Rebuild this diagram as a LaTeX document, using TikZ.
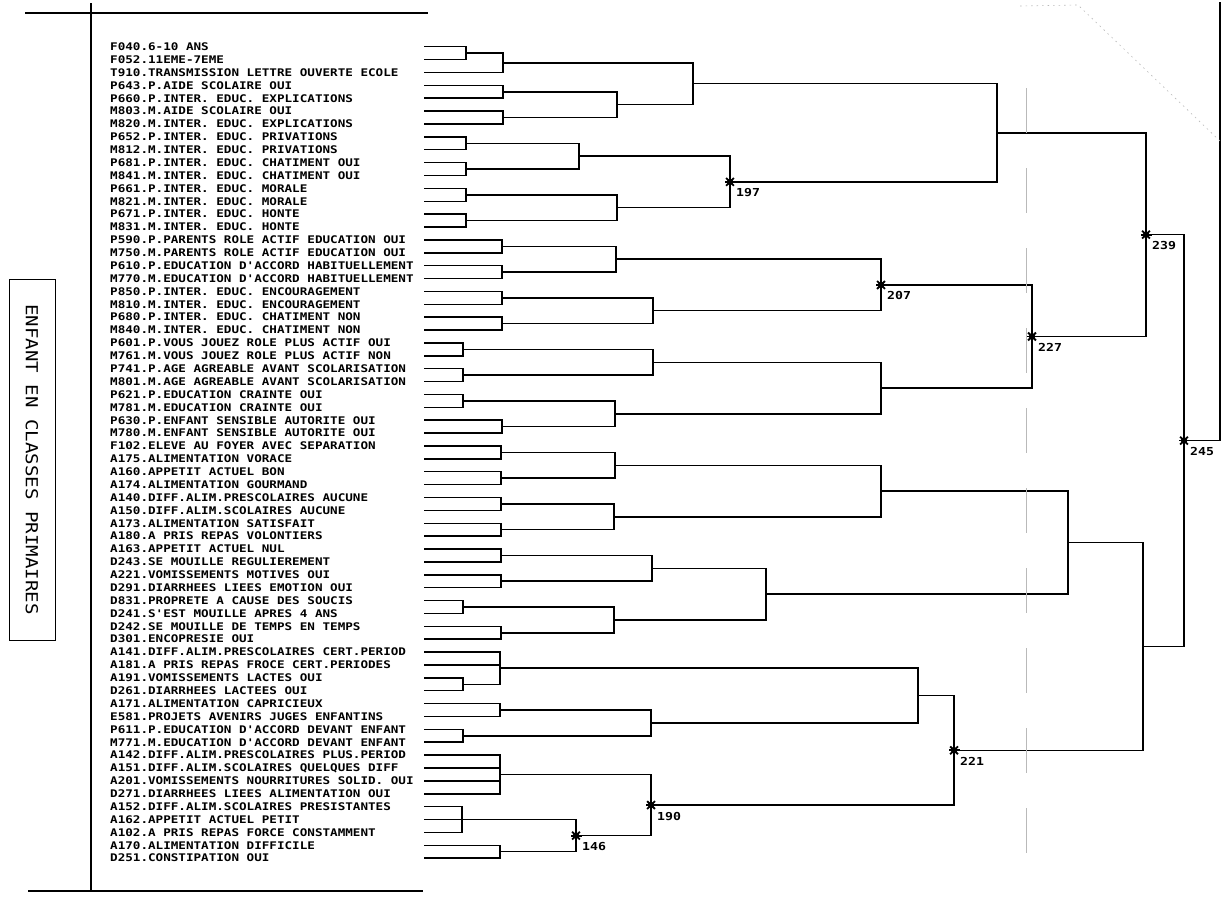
\documentclass[tikz,border=0pt]{standalone}
\usepackage{fontspec}
\usetikzlibrary{calc,shapes.geometric}
\newfontfamily\plotfont[FakeStretch=1.2]{DejaVu Sans Mono}
\newfontfamily\boxfont[FakeStretch=1.15]{DejaVu Sans Mono}
\newcommand\mrg[4]{%
  \path let \p1=($(#3)!0.5!(#4)$) in coordinate (#1) at (#2pt,\y1);
  \draw[dl] (#3) -- (#3-|#1) -- (#4-|#1) -- (#4);}
\begin{document}
\begin{tikzpicture}[x=1pt,y=-1pt,
  dl/.style={line width=1.5pt, line cap=rect},
  frame/.style={line width=1.6pt},
  lab/.style={anchor=base west, inner sep=0pt, font=\plotfont\bfseries\fontsize{10.5}{10.5}\selectfont},
  num/.style={anchor=base west, inner sep=0pt, font=\plotfont\bfseries\fontsize{11}{11}\selectfont},
  burst/.style={circle, fill=black, minimum size=6.5pt, inner sep=0pt},
  spoke/.style={line width=1.8pt},
  faint/.style={gray!55, line width=0.6pt}]
\fill[white] (0,0) rectangle (1223,900);
\useasboundingbox (0,0) rectangle (1223,900);

% frame lines
\coordinate (ft1) at (25,13);  \coordinate (ft2) at (428,13);
\coordinate (fb1) at (28,891); \coordinate (fb2) at (423,891);
\coordinate (fv1) at (91,3);   \coordinate (fv2) at (91,891);
\draw[frame] (ft1) -- (ft2);
\draw[frame] (fb1) -- (fb2);
\draw[line width=1.1pt] (fv1) -- (fv2);

% title box
\node[draw, line width=1pt, minimum width=46pt, minimum height=361pt, inner sep=0pt] (box) at (32,459.5) {};
\node[rotate=-90, inner sep=0pt, font=\boxfont\fontsize{16.6}{16.6}\selectfont] (title) at (box.center) {ENFANT EN CLASSES PRIMAIRES};

% labels and leaves
\foreach \lbl [count=\i] in {F040.6-10 ANS,
F052.11EME-7EME,
T910.TRANSMISSION LETTRE OUVERTE ECOLE,
P643.P.AIDE SCOLAIRE OUI,
P660.P.INTER. EDUC. EXPLICATIONS,
M803.M.AIDE SCOLAIRE OUI,
M820.M.INTER. EDUC. EXPLICATIONS,
P652.P.INTER. EDUC. PRIVATIONS,
M812.M.INTER. EDUC. PRIVATIONS,
P681.P.INTER. EDUC. CHATIMENT OUI,
M841.M.INTER. EDUC. CHATIMENT OUI,
P661.P.INTER. EDUC. MORALE,
M821.M.INTER. EDUC. MORALE,
P671.P.INTER. EDUC. HONTE,
M831.M.INTER. EDUC. HONTE,
P590.P.PARENTS ROLE ACTIF EDUCATION OUI,
M750.M.PARENTS ROLE ACTIF EDUCATION OUI,
P610.P.EDUCATION D'ACCORD HABITUELLEMENT,
M770.M.EDUCATION D'ACCORD HABITUELLEMENT,
P850.P.INTER. EDUC. ENCOURAGEMENT,
M810.M.INTER. EDUC. ENCOURAGEMENT,
P680.P.INTER. EDUC. CHATIMENT NON,
M840.M.INTER. EDUC. CHATIMENT NON,
P601.P.VOUS JOUEZ ROLE PLUS ACTIF OUI,
M761.M.VOUS JOUEZ ROLE PLUS ACTIF NON,
P741.P.AGE AGREABLE AVANT SCOLARISATION,
M801.M.AGE AGREABLE AVANT SCOLARISATION,
P621.P.EDUCATION CRAINTE OUI,
M781.M.EDUCATION CRAINTE OUI,
P630.P.ENFANT SENSIBLE AUTORITE OUI,
M780.M.ENFANT SENSIBLE AUTORITE OUI,
F102.ELEVE AU FOYER AVEC SEPARATION,
A175.ALIMENTATION VORACE,
A160.APPETIT ACTUEL BON,
A174.ALIMENTATION GOURMAND,
A140.DIFF.ALIM.PRESCOLAIRES AUCUNE,
A150.DIFF.ALIM.SCOLAIRES AUCUNE,
A173.ALIMENTATION SATISFAIT,
A180.A PRIS REPAS VOLONTIERS,
A163.APPETIT ACTUEL NUL,
D243.SE MOUILLE REGULIEREMENT,
A221.VOMISSEMENTS MOTIVES OUI,
D291.DIARRHEES LIEES EMOTION OUI,
D831.PROPRETE A CAUSE DES SOUCIS,
D241.S'EST MOUILLE APRES 4 ANS,
D242.SE MOUILLE DE TEMPS EN TEMPS,
D301.ENCOPRESIE OUI,
A141.DIFF.ALIM.PRESCOLAIRES CERT.PERIOD,
A181.A PRIS REPAS FROCE CERT.PERIODES,
A191.VOMISSEMENTS LACTES OUI,
D261.DIARRHEES LACTEES OUI,
A171.ALIMENTATION CAPRICIEUX,
E581.PROJETS AVENIRS JUGES ENFANTINS,
P611.P.EDUCATION D'ACCORD DEVANT ENFANT,
M771.M.EDUCATION D'ACCORD DEVANT ENFANT,
A142.DIFF.ALIM.PRESCOLAIRES PLUS.PERIOD,
A151.DIFF.ALIM.SCOLAIRES QUELQUES DIFF,
A201.VOMISSEMENTS NOURRITURES SOLID. OUI,
D271.DIARRHEES LIEES ALIMENTATION OUI,
A152.DIFF.ALIM.SCOLAIRES PRESISTANTES,
A162.APPETIT ACTUEL PETIT,
A102.A PRIS REPAS FORCE CONSTAMMENT,
A170.ALIMENTATION DIFFICILE,
D251.CONSTIPATION OUI}{
  \coordinate (L\i) at (425,{46.7+(\i-1)*12.88});
  \node[lab] (T\i) at (110,{46.7+(\i-1)*12.88+3.8}) {\lbl};
}

% ---- upper group ----
\mrg{m12}{466}{L1}{L2}
\mrg{m123}{503}{m12}{L3}
\mrg{m45}{503}{L4}{L5}
\mrg{m67}{503}{L6}{L7}
\mrg{m4567}{617}{m45}{m67}
\mrg{mA}{693}{m123}{m4567}
\mrg{m89}{466}{L8}{L9}
\mrg{m1011}{466}{L10}{L11}
\mrg{m811}{579}{m89}{m1011}
\mrg{m1213}{466}{L12}{L13}
\mrg{m1415}{466}{L14}{L15}
\mrg{m1215}{617}{m1213}{m1415}
\mrg{n197}{730}{m811}{m1215}
\mrg{mB}{997}{mA}{n197}

\mrg{m1617}{502}{L16}{L17}
\mrg{m1819}{502}{L18}{L19}
\mrg{m1619}{616}{m1617}{m1819}
\mrg{m2021}{502}{L20}{L21}
\mrg{m2223}{502}{L22}{L23}
\mrg{m2023}{653}{m2021}{m2223}
\mrg{n207}{881}{m1619}{m2023}
\mrg{m2425}{463}{L24}{L25}
\mrg{m2627}{463}{L26}{L27}
\mrg{m2427}{653}{m2425}{m2627}
\mrg{m2829}{463}{L28}{L29}
\mrg{m3031}{502}{L30}{L31}
\mrg{m2831}{615}{m2829}{m3031}
\mrg{m2431}{881}{m2427}{m2831}
\mrg{n227}{1032}{n207}{m2431}
\mrg{n239}{1146}{mB}{n227}

% ---- lower group ----
\mrg{m3233}{501}{L32}{L33}
\mrg{m3435}{501}{L34}{L35}
\mrg{m3235}{615}{m3233}{m3435}
\mrg{m3637}{501}{L36}{L37}
\mrg{m3839}{501}{L38}{L39}
\mrg{m3639}{614}{m3637}{m3839}
\mrg{m3239}{881}{m3235}{m3639}
\mrg{m4041}{501}{L40}{L41}
\mrg{m4243}{501}{L42}{L43}
\mrg{m4043}{652}{m4041}{m4243}
\mrg{m4445}{463}{L44}{L45}
\mrg{m4647}{501}{L46}{L47}
\mrg{m4447}{614}{m4445}{m4647}
\mrg{m4047}{766}{m4043}{m4447}
\mrg{m3247}{1068}{m3239}{m4047}

\mrg{m5051}{463}{L50}{L51}
\mrg{m4851}{500}{L48}{m5051}
\draw[dl] (L49) -- (L49-|m4851);
\mrg{m5253}{500}{L52}{L53}
\mrg{m5455}{463}{L54}{L55}
\mrg{m5255}{651}{m5253}{m5455}
\mrg{m4855}{918}{m4851}{m5255}
\mrg{m5659}{500}{L56}{L59}
\draw[dl] (L57) -- (L57-|m5659);
\draw[dl] (L58) -- (L58-|m5659);
\mrg{m6062}{462}{L60}{L62}
\draw[dl] (L61) -- (L61-|m6062);
\mrg{m6364}{500}{L63}{L64}
\mrg{n146}{576}{m6062}{m6364}
\mrg{n190}{651}{m5659}{n146}
\mrg{n221}{954}{m4855}{n190}
\mrg{m3264}{1143}{m3247}{n221}
\mrg{n245}{1184}{n239}{m3264}

% root line
\coordinate (rt) at (1220,3);
\draw[dl] (n245) -- (n245-|rt) -- (rt);

% faint scan marks
\coordinate (cutA) at (1026,88); \coordinate (cutB) at (1026,885);
\draw[faint, dash pattern=on 45pt off 35pt] (cutA) -- (cutB);
\coordinate (dg1) at (1020,6); \coordinate (dg2) at (1078,5); \coordinate (dg3) at (1221,142);
\draw[faint, dash pattern=on 1.5pt off 4pt] (dg1) -- (dg2) -- (dg3);

% bursts and numbers
\foreach \n in {197,207,227,239,245,221,190,146}{
  \node[burst] (s\n) at (n\n) {};
  \foreach \a in {0,45,90,135}
    \draw[spoke] ($(s\n.center)+(\a:5.5)$) -- ($(s\n.center)+(\a+180:5.5)$);
  \node[num] (t\n) at ($(n\n)+(6,15)$) {\n};
}
\end{tikzpicture}
\end{document}
